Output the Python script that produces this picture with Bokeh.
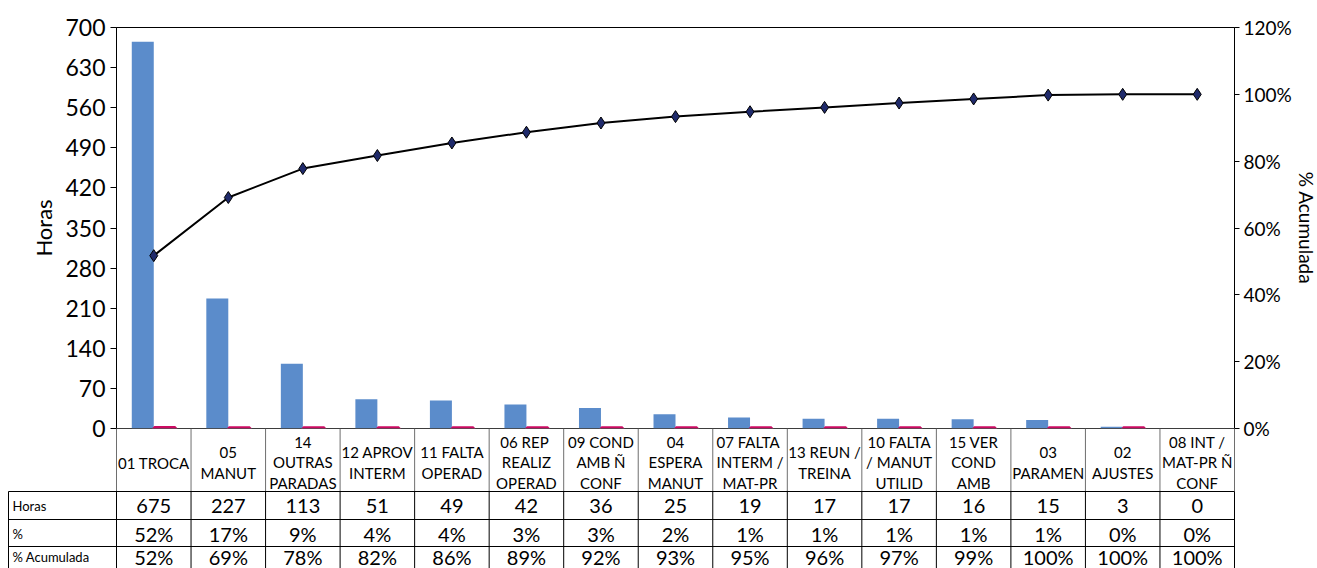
import numpy as np
from bokeh.plotting import figure
from bokeh.models import Range1d, LinearAxis, FixedTicker, NumeralTickFormatter, ColumnDataSource
from bokeh.embed import file_html
from bokeh.resources import INLINE
from bokeh.core.properties import value

# ---- data ----
categories = ["01 TROCA", "05\nMANUT", "14\nOUTRAS\nPARADAS", "12 APROV\nINTERM", "11 FALTA\nOPERAD",
              "06  REP\nREALIZ\nOPERAD", "09 COND\nAMB Ñ\nCONF", "04\nESPERA\nMANUT",
              "07  FALTA\nINTERM /\nMAT-PR", "13 REUN /\nTREINA", "10 FALTA\n/ MANUT\nUTILID",
              "15 VER\nCOND\nAMB", "03\nPARAMEN", "02\nAJUSTES", "08 INT /\nMAT-PR Ñ\nCONF"]
horas = [675, 227, 113, 51, 49, 42, 36, 25, 19, 17, 17, 16, 15, 3, 0]
pct_txt = ["52%", "17%", "9%", "4%", "4%", "3%", "3%", "2%", "1%", "1%", "1%", "1%", "1%", "0%", "0%"]
acum_txt = ["52%", "69%", "78%", "82%", "86%", "89%", "92%", "93%", "95%", "96%", "97%", "99%",
            "100%", "100%", "100%"]
left_ticks = [0, 70, 140, 210, 280, 350, 420, 490, 560, 630, 700]
right_ticks = [0, 0.2, 0.4, 0.6, 0.8, 1.0, 1.2]
row_labels = ["Horas", "%", "% Acumulada"]

total = float(sum(horas))
pct = [h / total for h in horas]
acum = list(np.cumsum(horas) / total)

FONT = "Lato"
W = 1317
L, FW = 116, 1118
n = len(horas)
cw = FW / n
xs = [i + 0.5 for i in range(n)]
PAD = 14

src = ColumnDataSource(dict(
    xb=[x - 0.1475 for x in xs], xp=[x + 0.1475 for x in xs], x=xs,
    horas=horas, pct=pct, acum=acum,
    plw=[4.5 if v > 0 else 0 for v in pct],
))

# ---- chart ----
p = figure(frame_width=FW, frame_height=401, x_range=Range1d(0, n), y_range=Range1d(0, 700),
           output_backend="svg", toolbar_location=None, x_axis_location=None,
           min_border_left=L, min_border_right=0, min_border_top=27, min_border_bottom=PAD)
p.grid.visible = False
p.outline_line_color = "black"
p.outline_line_alpha = 1
p.background_fill_color = "white"

p.yaxis.ticker = FixedTicker(ticks=left_ticks)
p.yaxis.minor_tick_line_color = None
p.yaxis.major_tick_in = 0
p.yaxis.major_tick_out = 6
p.yaxis.axis_line_color = "black"
p.yaxis.major_tick_line_color = "black"
p.yaxis.major_label_text_font = FONT
p.yaxis.major_label_text_font_size = "23px"
p.yaxis.major_label_text_color = "black"
p.yaxis.axis_label = "Horas"
p.yaxis.axis_label_text_font = FONT
p.yaxis.axis_label_text_font_size = "22px"
p.yaxis.axis_label_text_font_style = "normal"
p.yaxis.axis_label_text_color = "black"

p.extra_y_ranges = {"pct": Range1d(0, 1.2)}
ax = LinearAxis(y_range_name="pct", ticker=FixedTicker(ticks=right_ticks),
                formatter=NumeralTickFormatter(format="0%"))
ax.minor_tick_line_color = None
ax.major_tick_in = 0
ax.major_tick_out = 5
ax.major_label_standoff = 4
ax.major_label_text_font = FONT
ax.major_label_text_font_size = "19px"
ax.major_label_text_color = "black"
ax.axis_label = "% Acumulada"
ax.axis_label_standoff = 0
ax.axis_label_text_font = FONT
ax.axis_label_text_font_size = "19px"
ax.axis_label_text_font_style = "normal"
ax.axis_label_text_color = "black"
p.add_layout(ax, "right")

p.vbar(x="xb", top="horas", width=0.295, source=src, fill_color="#5B8CCB", line_color=None)
p.vbar(x="xp", top="pct", width=0.28, source=src, fill_color="#CC0A62", line_color="#CC0A62",
       line_width="plw")
p.line(x="x", y="acum", source=src, y_range_name="pct", line_color="black", line_width=2)
p.scatter(x="x", y="acum", source=src, y_range_name="pct", marker="diamond", size=12,
          fill_color="#1F2A6B", line_color="black", line_width=1)

# ---- data table ----
TH = 140
t = figure(width=W, height=TH, x_range=Range1d(-L / cw, (W - L) / cw), y_range=Range1d(TH, 0),
           output_backend="svg", toolbar_location=None, x_axis_location=None, y_axis_location=None,
           min_border=0, outline_line_color=None)
t.grid.visible = False
t.background_fill_alpha = 0
t.border_fill_alpha = 0
t.styles = {"margin-top": "-%dpx" % PAD}

xl = -108 / cw
row_y = [63, 91, 118, 145]
hx = list(range(n + 1))
t.segment(x0=[0], y0=[0], x1=[n], y1=[0], line_color="#7A7A7A", line_width=1)
t.segment(x0=hx, y0=[0] * (n + 1), x1=hx, y1=[row_y[0]] * (n + 1), line_color="#6E6E6E", line_width=1)
vx = hx + [xl]
t.segment(x0=vx, y0=[row_y[0]] * (n + 2), x1=vx, y1=[TH + 5] * (n + 2), line_color="black", line_width=1)
t.segment(x0=[xl] * 4, y0=row_y, x1=[n] * 4, y1=row_y, line_color="black", line_width=1)

t.text(x=xs, y=[34] * n, text=categories, text_align="center", text_baseline="middle",
       text_font=value(FONT), text_font_size="15px", text_line_height=1.12, text_color="black")
centers = [77, 105, 128]
for rows, cy in zip([[str(h) for h in horas], pct_txt, acum_txt], centers):
    t.text(x=xs, y=[cy] * n, text=rows, text_align="center", text_baseline="middle",
           text_font=value(FONT), text_font_size="20px", text_color="black")
t.text(x=[-104 / cw] * 3, y=centers, text=row_labels, text_align="left", text_baseline="middle",
       text_font=value(FONT), text_font_size="13px", text_color="black")

open("out.html", "w").write(file_html([p, t], INLINE))
